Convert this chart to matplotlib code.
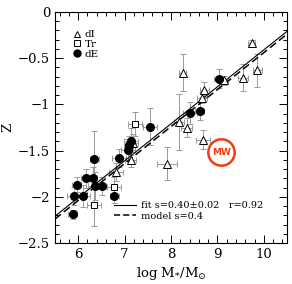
import numpy as np
import matplotlib
matplotlib.use("Agg")
import matplotlib.pyplot as plt
from matplotlib.lines import Line2D

plt.rcParams['font.family'] = ['DejaVu Serif']
plt.rcParams['mathtext.fontset'] = 'dejavuserif'

# dI (open triangles)
dI_x = [6.81, 7.13, 7.18, 7.91, 8.17, 8.25, 8.34, 8.67, 8.68, 8.72, 9.15, 9.55, 9.74, 9.86]
dI_y = [-1.73, -1.60, -1.42, -1.64, -1.19, -0.66, -1.25, -0.93, -1.38, -0.84, -0.74, -0.71, -0.34, -0.63]
dI_xerr = [0.15, 0.12, 0.12, 0.21, 0.1, 0.08, 0.12, 0.1, 0.15, 0.1, 0.08, 0.1, 0.08, 0.1]
dI_yerr = [0.1, 0.08, 0.1, 0.18, 0.3, 0.2, 0.1, 0.05, 0.1, 0.08, 0.05, 0.15, 0.04, 0.18]

# Tr (open squares)
tr_x = [6.35, 6.78, 7.22]
tr_y = [-2.09, -1.89, -1.21]
tr_xerr = [0.15, 0.15, 0.15]
tr_yerr = [0.22, 0.1, 0.13]

# dE (filled circles)
dE_x = [5.88, 5.92, 5.97, 6.11, 6.16, 6.31, 6.35, 6.36, 6.51, 6.78, 6.88, 7.08, 7.09, 7.13, 7.55, 8.40, 8.62, 9.03]
dE_y = [-2.19, -1.99, -1.87, -1.99, -1.80, -1.80, -1.59, -1.88, -1.88, -1.99, -1.58, -1.49, -1.44, -1.40, -1.24, -1.09, -1.07, -0.72]
dE_xerr = [0.1, 0.15, 0.1, 0.15, 0.1, 0.1, 0.1, 0.15, 0.1, 0.1, 0.15, 0.15, 0.1, 0.15, 0.15, 0.15, 0.1, 0.1]
dE_yerr = [0.05, 0.1, 0.08, 0.12, 0.1, 0.12, 0.3, 0.15, 0.1, 0.08, 0.1, 0.12, 0.1, 0.15, 0.2, 0.12, 0.1, 0.1]

# fit and model lines
fit_slope, fit_icpt = 0.40, -4.41
model_slope, model_icpt = 0.40, -4.44
line_x = [5.5, 10.5]

mw_x, mw_y = 9.08, -1.52

fig = plt.figure(figsize=(2.92, 2.84), dpi=100)
ax = fig.add_axes([0.188, 0.144, 0.795, 0.814])

ebkw = dict(ls='none', ecolor='#999999', elinewidth=0.7, capsize=2, capthick=0.7)
ax.errorbar(dI_x, dI_y, xerr=dI_xerr, yerr=dI_yerr, marker='^', ms=5.5, mfc='white', mec='black', mew=0.7, **ebkw)
ax.errorbar(tr_x, tr_y, xerr=tr_xerr, yerr=tr_yerr, marker='s', ms=5, mfc='white', mec='black', mew=0.7, **ebkw)
ax.errorbar(dE_x, dE_y, xerr=dE_xerr, yerr=dE_yerr, marker='o', ms=5.5, mfc='black', mec='black', **ebkw)

lx = np.array(line_x)
ax.plot(lx, fit_slope * lx + fit_icpt, color='black', lw=0.8)
ax.plot(lx, model_slope * lx + model_icpt, color='black', lw=1.1, dashes=(5, 2.5))

# MW marker
ax.plot([mw_x], [mw_y], marker='o', ms=19, mfc='none', mec='#f03c14', mew=1.8)
ax.text(mw_x, mw_y, 'MW', color='#f03c14', fontsize=6.5, fontweight='bold',
        family='DejaVu Sans', ha='center', va='center')

ax.set_xlim(5.5, 10.5)
ax.set_ylim(-2.5, 0)
ax.set_xticks([6, 7, 8, 9, 10])
ax.set_xticks(np.arange(5.6, 10.5, 0.2), minor=True)
ax.set_yticks([-2.5, -2, -1.5, -1, -0.5, 0])
ax.set_yticklabels(['\u22122.5', '\u22122', '\u22121.5', '\u22121', '\u22120.5', '0'])
ax.set_yticks(np.arange(-2.5, 0.01, 0.1), minor=True)
ax.tick_params(which='both', direction='in', top=True, right=True, labelsize=9.5, width=0.7)
ax.tick_params(which='major', length=6)
ax.tick_params(which='minor', length=3)
for s in ax.spines.values():
    s.set_linewidth(0.8)

ax.set_xlabel(r'log M$_{*}$/M$_{\odot}$', fontsize=9.5, labelpad=3)
ax.set_ylabel('Z', fontsize=9.5)
ax.yaxis.set_label_coords(-0.175, 0.5)

h1 = [Line2D([], [], ls='none', marker='^', ms=5, mfc='white', mec='black', mew=0.7),
      Line2D([], [], ls='none', marker='s', ms=4.5, mfc='white', mec='black', mew=0.7),
      Line2D([], [], ls='none', marker='o', ms=5, mfc='black', mec='black')]
leg1 = ax.legend(h1, ['dI', 'Tr', 'dE'], loc='upper left', bbox_to_anchor=(0.06, 0.94),
                 frameon=False, fontsize=7.5, handlelength=0.8, handletextpad=0.3,
                 labelspacing=0.05, borderaxespad=0)
ax.add_artist(leg1)

h2 = [Line2D([], [], color='black', lw=0.8),
      Line2D([], [], color='black', lw=1.1, dashes=(4, 2))]
ax.legend(h2, ['fit s=0.40\u00b10.02   r=0.92', 'model s=0.4'], loc='lower left',
          bbox_to_anchor=(0.24, 0.08), frameon=False, fontsize=7, handlelength=2.2,
          handletextpad=0.5, labelspacing=0.15, borderaxespad=0)

fig.savefig('out.png', dpi=100)
